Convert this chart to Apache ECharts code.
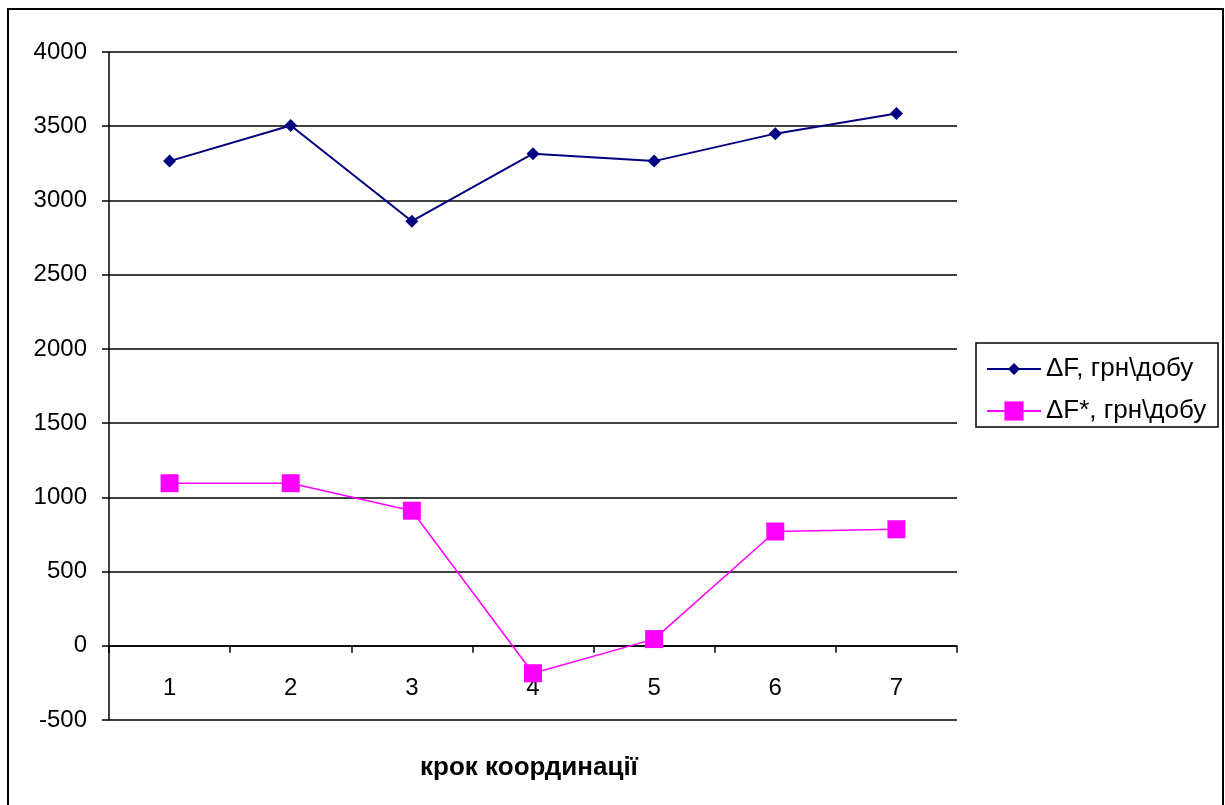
<!DOCTYPE html>
<html>
<head>
<meta charset="utf-8">
<title>ΔF по кроках координації</title>
<script src="https://cdn.jsdelivr.net/npm/echarts@6/dist/echarts.min.js"></script>
<style>
  html, body { margin: 0; padding: 0; background: #ffffff; }
  #chart { width: 1225px; height: 805px; }
</style>
</head>
<body>
<div id="chart"></div>
<script>
// Кроки координації
const steps = ['1', '2', '3', '4', '5', '6', '7'];
// ΔF, грн\добу
const deltaF = [3265, 3505, 2860, 3315, 3265, 3450, 3585];
// ΔF*, грн\добу
const deltaFStar = [1095, 1095, 910, -185, 45, 770, 785];

const nameF = 'ΔF, грн\\добу';
const nameFStar = 'ΔF*, грн\\добу';
const axisTitle = 'крок координації';

const FONT = "'Liberation Sans', Arial, sans-serif";
const NAVY = '#000080';
const MAGENTA = '#FF00FF';

const chart = echarts.init(document.getElementById('chart'), null, { renderer: 'canvas' });

chart.setOption({
  backgroundColor: '#ffffff',
  animation: false,
  textStyle: { fontFamily: FONT, color: '#000' },
  graphic: [
    {
      // outer frame
      type: 'rect',
      shape: { x: 8, y: 9, width: 1215, height: 810 },
      style: { fill: 'none', stroke: '#000', lineWidth: 2 },
      silent: true
    },
    {
      // legend frame
      type: 'rect',
      shape: { x: 976, y: 343, width: 242, height: 84 },
      style: { fill: '#fff', stroke: '#000', lineWidth: 1.5 },
      z: 0,
      silent: true
    },
    {
      // category axis title
      type: 'text',
      x: 529,
      y: 768,
      style: {
        text: axisTitle,
        align: 'center',
        verticalAlign: 'middle',
        fill: '#000',
        font: "bold 26px 'Liberation Sans', Arial, sans-serif"
      },
      silent: true
    }
  ],
  legend: [
    {
      data: [nameF],
      left: 986,
      top: 356,
      padding: 0,
      itemWidth: 54,
      itemHeight: 15,
      itemGap: 0,
      textStyle: { fontFamily: FONT, fontSize: 26, color: '#000' }
    },
    {
      data: [nameFStar],
      left: 986,
      top: 398,
      padding: 0,
      itemWidth: 54,
      itemHeight: 24,
      itemGap: 0,
      textStyle: { fontFamily: FONT, fontSize: 26, color: '#000' }
    }
  ],
  grid: { left: 109, right: 268, top: 52, bottom: 85, containLabel: false, outerBoundsMode: 'none' },
  xAxis: {
    type: 'category',
    data: steps,
    boundaryGap: true,
    axisLine: { onZero: true, lineStyle: { color: '#000', width: 1.5 } },
    axisTick: { show: true, inside: false, length: 7, alignWithLabel: false, lineStyle: { color: '#000', width: 1.5 } },
    // labels sit just under the zero line
    axisLabel: { margin: -44, fontSize: 24, fontFamily: FONT, color: '#000' },
    splitLine: { show: false }
  },
  yAxis: {
    type: 'value',
    min: -500,
    max: 4000,
    interval: 500,
    axisLine: { show: true, lineStyle: { color: '#000', width: 1.5 } },
    axisTick: { show: true, length: 7, lineStyle: { color: '#000', width: 1.5 } },
    axisLabel: {
      margin: 22,
      fontSize: 24,
      fontFamily: FONT,
      color: '#000',
      formatter: (v) => String(v)
    },
    splitLine: { show: true, lineStyle: { color: '#000', width: 1.5 } }
  },
  series: [
    {
      name: nameF,
      type: 'line',
      data: deltaF,
      symbol: 'diamond',
      symbolSize: 13,
      showAllSymbol: true,
      lineStyle: { color: NAVY, width: 2 },
      itemStyle: { color: NAVY, borderWidth: 0 },
      z: 3
    },
    {
      name: nameFStar,
      type: 'line',
      data: deltaFStar,
      symbol: 'rect',
      symbolSize: 18,
      showAllSymbol: true,
      lineStyle: { color: MAGENTA, width: 1.5 },
      itemStyle: { color: MAGENTA, borderWidth: 0 },
      z: 3
    }
  ]
});
</script>
</body>
</html>
